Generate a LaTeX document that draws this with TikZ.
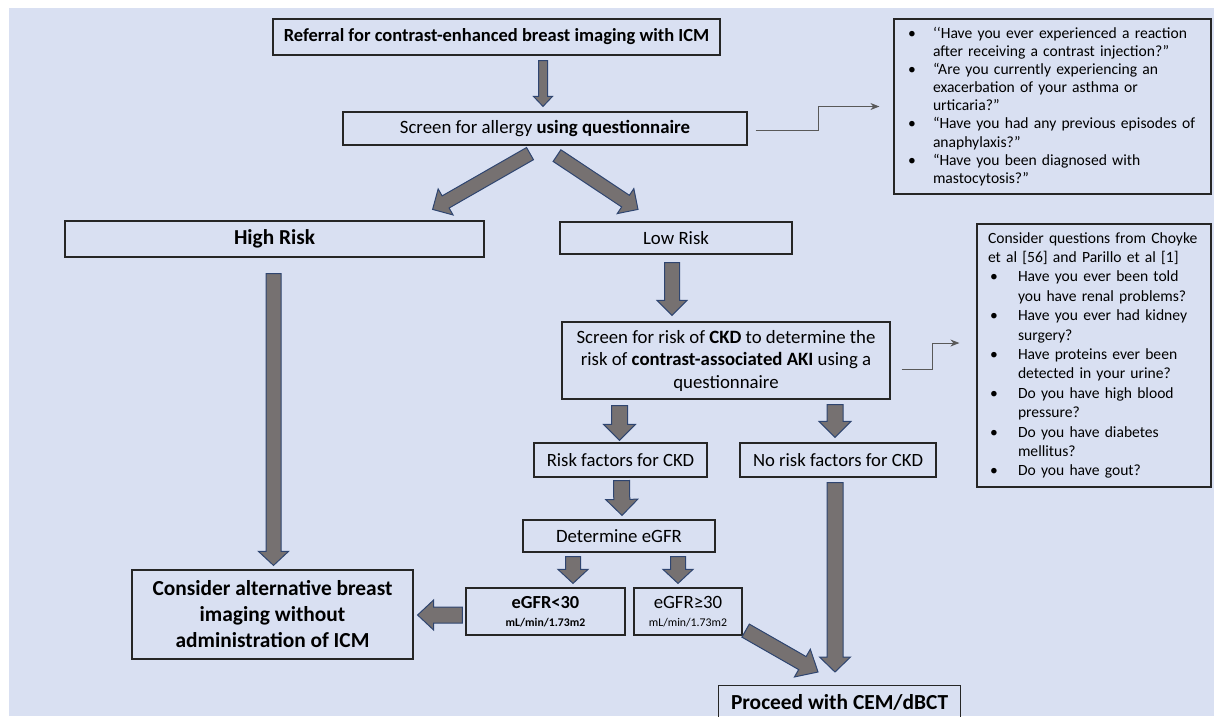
\documentclass[tikz,border=0pt]{standalone}
\usepackage{fontspec}
\setmainfont{Carlito}
\usetikzlibrary{arrows.meta, positioning, calc}

\definecolor{bgblue}{RGB}{217,224,242}
\definecolor{boxline}{RGB}{38,38,38}
\definecolor{arrowgray}{RGB}{118,113,113}
\definecolor{arrowedge}{RGB}{47,69,112}
\definecolor{connline}{RGB}{89,89,89}

\tikzset{
  box/.style={draw=boxline, line width=1.2pt, inner sep=0pt, align=center},
  blockarr/.style={fill=arrowgray, draw=arrowedge, line width=1pt},
  conn/.style={-{Stealth[length=9pt, width=7pt]}, draw=connline, line width=0.9pt},
}

% bullet lines of the question boxes
\newcommand{\qb}[2]{\makebox[#1][l]{\textbullet}\mbox{#2}}
\newcommand{\qc}[2]{\hspace*{#1}\mbox{#2}}

% block arrow: tail, tip, shaft half width, head half width, head length
\newcommand{\blockarrow}[5]{%
  \coordinate (ba-tail) at #1;
  \coordinate (ba-tip) at #2;
  \coordinate (ba-neck) at ($(ba-tip)!#5pt!(ba-tail)$);
  \filldraw[blockarr] ($(ba-tail)!#3pt!90:(ba-tip)$) -- ($(ba-neck)!#3pt!-90:(ba-tail)$)
    -- ($(ba-neck)!#4pt!-90:(ba-tail)$) -- (ba-tip) -- ($(ba-neck)!#4pt!90:(ba-tail)$)
    -- ($(ba-neck)!#3pt!90:(ba-tail)$) -- ($(ba-tail)!#3pt!-90:(ba-tip)$) -- cycle;
}

\begin{document}
\begin{tikzpicture}[x=1pt, y=-1pt, >=stealth]
    % Background
    \useasboundingbox (0,0) rectangle (1214,716);
    \fill[bgblue] (9,8) rectangle (1214,716);

    % Nodes
    \node[box, minimum width=447pt, minimum height=36pt, font=\bfseries\fontsize{18.5}{22}\selectfont] (refer) at (496.5,37) {Referral for contrast-enhanced breast imaging with ICM};
    \node[box, minimum width=404pt, minimum height=33pt, font=\fontsize{18.8}{22}\selectfont] (allergy) at (545,128.5) {Screen for allergy \textbf{using questionnaire}};
    \node[box, minimum width=317pt, minimum height=175pt, text width=289pt, inner xsep=14pt, align=left, font=\fontsize{15.6}{18.1}\selectfont] (q1) at (1052.5,106.5) {%
      \qb{25pt}{‘‘Have you ever experienced a reaction}\\
      \qc{25pt}{after receiving a contrast injection?”}\\
      \qb{25pt}{“Are you currently experiencing an}\\
      \qc{25pt}{exacerbation of your asthma or}\\
      \qc{25pt}{urticaria?”}\\
      \qb{25pt}{“Have you had any previous episodes of}\\
      \qc{25pt}{anaphylaxis?”}\\
      \qb{25pt}{“Have you been diagnosed with}\\
      \qc{25pt}{mastocytosis?”}};
    \node[box, minimum width=419pt, minimum height=36pt, font=\bfseries\fontsize{21.3}{24}\selectfont] (high) at (274.5,239) {High Risk};
    \node[box, minimum width=232pt, minimum height=32pt, font=\fontsize{18.8}{22}\selectfont] (low) at (676,238) {Low Risk};
    \node[box, minimum width=328pt, minimum height=77pt, font=\fontsize{18.8}{22.5}\selectfont] (ckd) at (726,360.5) {Screen for risk of \textbf{CKD} to determine the\\ risk of \textbf{contrast-associated AKI} using a\\ questionnaire};
    \node[box, minimum width=234pt, minimum height=263pt, text width=212pt, inner xsep=11pt, align=left, font=\fontsize{15.6}{19.4}\selectfont] (q2) at (1094,355.5) {%
      \mbox{Consider questions from Choyke}\\
      \mbox{et al [56] and Parillo et al [1]}\\
      \hspace*{2pt}\qb{28pt}{Have you ever been told}\\
      \qc{30pt}{you have renal problems?}\\
      \hspace*{2pt}\qb{28pt}{Have you ever had kidney}\\
      \qc{30pt}{surgery?}\\
      \hspace*{2pt}\qb{28pt}{Have proteins ever been}\\
      \qc{30pt}{detected in your urine?}\\
      \hspace*{2pt}\qb{28pt}{Do you have high blood}\\
      \qc{30pt}{pressure?}\\
      \hspace*{2pt}\qb{28pt}{Do you have diabetes}\\
      \qc{30pt}{mellitus?}\\
      \hspace*{2pt}\qb{28pt}{Do you have gout?}};
    \node[box, minimum width=173pt, minimum height=34pt, font=\fontsize{18.7}{22}\selectfont] (riskf) at (620.5,460) {Risk factors for CKD};
    \node[box, minimum width=196pt, minimum height=34pt, font=\fontsize{18.7}{22}\selectfont] (norisk) at (838,460) {No risk factors for CKD};
    \node[box, minimum width=192pt, minimum height=32pt, font=\fontsize{18.8}{22}\selectfont] (egfr) at (619,536) {Determine eGFR};
    \node[box, minimum width=159pt, minimum height=47pt, font=\bfseries\fontsize{18.4}{19}\selectfont] (low30) at (545.5,611.5) {eGFR<30\\[-1pt] {\fontsize{11.7}{12}\selectfont mL/min/1.73m2}};
    \node[box, minimum width=108pt, minimum height=47pt, font=\fontsize{18.8}{19}\selectfont] (high30) at (688,611.5) {eGFR≥30\\[-1pt] {\fontsize{11.8}{12}\selectfont mL/min/1.73m2}};
    \node[box, minimum width=281pt, minimum height=89pt, font=\bfseries\fontsize{21.4}{26}\selectfont] (consider) at (272.5,614.5) {Consider alternative breast\\ imaging without\\ administration of ICM};
    \node[box, anchor=north west, minimum width=242pt, minimum height=34pt, font=\bfseries\fontsize{21.4}{24}\selectfont] (proceed) at (718,685) {Proceed with CEM/dBCT};

    % Block arrows
    \blockarrow{($(allergy.north |- refer.south)+(-2,5)$)}{($(allergy.north)+(-2,-5)$)}{4.5}{9.5}{10}
    \blockarrow{($(allergy.south)+(-15,8)$)}{($(high.north east)+(-52,-11)$)}{7}{15}{15}
    \blockarrow{($(allergy.south)+(12,10)$)}{($(low.north)+(-38,-12)$)}{7}{15}{15}
    \blockarrow{($(high.south)+(-1,16)$)}{($(consider.north)+(1,-4)$)}{7.5}{15}{14}
    \blockarrow{($(low.south)+(-4,8)$)}{($(low.south |- ckd.north)+(-4,-6)$)}{7.5}{15}{15}
    \blockarrow{($(riskf.north |- ckd.south)+(-1,6)$)}{($(riskf.north)+(-1,-2)$)}{8}{16}{16}
    \blockarrow{($(norisk.north |- ckd.south)+(-3,5)$)}{($(norisk.north)+(-3,-5)$)}{8}{16}{16}
    \blockarrow{($(riskf.south)+(1,3)$)}{($(egfr.north)+(3,-4)$)}{8}{16}{16}
    \blockarrow{($(egfr.south -| low30.north)+(27.5,4)$)}{($(low30.north)+(27.5,-4)$)}{7.5}{15}{14}
    \blockarrow{($(egfr.south -| high30.north)+(-10,4)$)}{($(high30.north)+(-10,-4)$)}{7.5}{15}{14}
    \blockarrow{($(low30.west)+(-3,3.5)$)}{($(consider.east)+(4,0.5)$)}{8}{15}{16}
    \blockarrow{($(norisk.south)+(-3,5)$)}{($(proceed.north -| norisk.south)+(-3,-13)$)}{8}{15.5}{15}
    \blockarrow{($(high30.south east)+(3,-5)$)}{($(proceed.north west)+(100,-13)$)}{7.5}{16}{18}

    % Connectors
    \draw[conn] ($(allergy.east)+(8,2)$) -- ++(63,0) |- ($(q1.west)+(-14,0)$);
    \draw[conn] ($(ckd.east)+(11,8.5)$) -- ++(31,0) |- ($(q2.west)+(-17,-12.5)$);
\end{tikzpicture}
\end{document}
